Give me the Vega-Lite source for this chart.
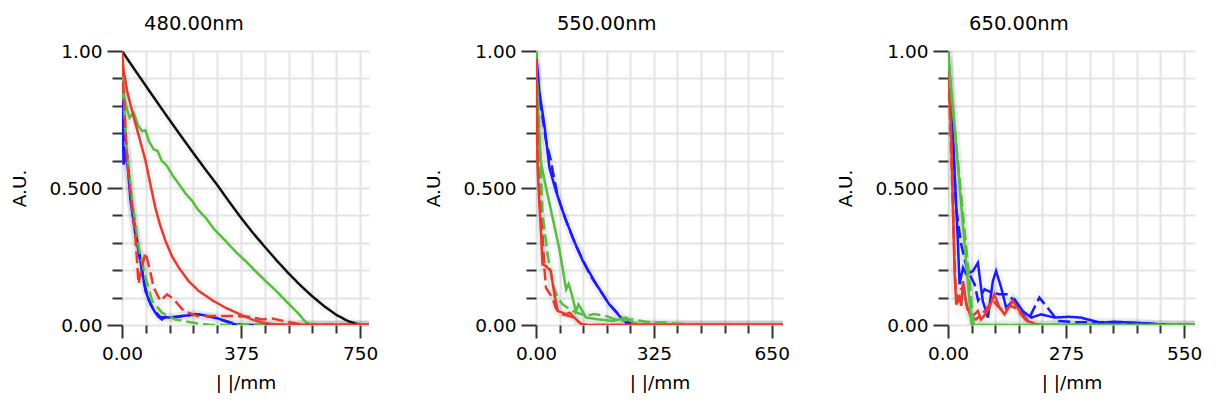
{
  "$schema": "https://vega.github.io/schema/vega-lite/v6.json",
  "background": "white",
  "padding": {"left": 10, "top": 13, "right": 10, "bottom": 10},
  "spacing": 46,
  "config": {
    "font": "DejaVu Sans",
    "view": {"stroke": null},
    "axis": {
      "labelFont": "DejaVu Sans", "titleFont": "DejaVu Sans",
      "labelFontSize": 18.5, "titleFontSize": 18.5, "titleFontWeight": "normal",
      "labelColor": "#000", "titleColor": "#000",
      "gridColor": "#e4e4e4", "gridWidth": 2,
      "tickColor": "#333", "tickWidth": 2,
      "domain": false, "labelFlush": false, "labelOverlap": false, "labelBound": false
    },
    "axisX": {"labelPadding": 6.5, "titlePadding": 10},
    "axisY": {"labelPadding": 5, "titlePadding": 20},
    "title": {"font": "DejaVu Sans", "fontSize": 19.5, "fontWeight": "normal", "color": "#000", "frame": "bounds", "anchor": "middle", "dy": -4}
  },
  "data": {"values": [
    {"p":"480","c":"k","d":"solid","x":0,"y":1},{"p":"480","c":"k","d":"solid","x":37.5,"y":0.936},{"p":"480","c":"k","d":"solid","x":75,"y":0.873},{"p":"480","c":"k","d":"solid","x":112.5,"y":0.81},{"p":"480","c":"k","d":"solid","x":150,"y":0.748},{"p":"480","c":"k","d":"solid","x":187.5,"y":0.687},{"p":"480","c":"k","d":"solid","x":225,"y":0.627},{"p":"480","c":"k","d":"solid","x":262.5,"y":0.568},{"p":"480","c":"k","d":"solid","x":300,"y":0.511},{"p":"480","c":"k","d":"solid","x":337.5,"y":0.45},{"p":"480","c":"k","d":"solid","x":375,"y":0.391},{"p":"480","c":"k","d":"solid","x":412.5,"y":0.336},{"p":"480","c":"k","d":"solid","x":450,"y":0.285},{"p":"480","c":"k","d":"solid","x":487.5,"y":0.235},{"p":"480","c":"k","d":"solid","x":525,"y":0.188},{"p":"480","c":"k","d":"solid","x":562.5,"y":0.144},{"p":"480","c":"k","d":"solid","x":600,"y":0.104},{"p":"480","c":"k","d":"solid","x":637.5,"y":0.068},{"p":"480","c":"k","d":"solid","x":675,"y":0.037},{"p":"480","c":"k","d":"solid","x":712.5,"y":0.014},{"p":"480","c":"k","d":"solid","x":750,"y":0},

    {"p":"480","c":"b","d":"dash","x":0,"y":0.9},{"p":"480","c":"b","d":"dash","x":4,"y":0.75},{"p":"480","c":"b","d":"dash","x":8,"y":0.6},{"p":"480","c":"b","d":"dash","x":15,"y":0.63},{"p":"480","c":"b","d":"dash","x":25,"y":0.5},{"p":"480","c":"b","d":"dash","x":40,"y":0.36},{"p":"480","c":"b","d":"dash","x":55,"y":0.26},{"p":"480","c":"b","d":"dash","x":70,"y":0.15},{"p":"480","c":"b","d":"dash","x":85,"y":0.09},{"p":"480","c":"b","d":"dash","x":100,"y":0.055},{"p":"480","c":"b","d":"dash","x":120,"y":0.03},{"p":"480","c":"b","d":"dash","x":140,"y":0.025},{"p":"480","c":"b","d":"dash","x":180,"y":0.03},{"p":"480","c":"b","d":"dash","x":230,"y":0.04},{"p":"480","c":"b","d":"dash","x":280,"y":0.03},{"p":"480","c":"b","d":"dash","x":340,"y":0.01},{"p":"480","c":"b","d":"dash","x":380,"y":0},{"p":"480","c":"b","d":"dash","x":778,"y":0},

    {"p":"480","c":"b","d":"solid","x":0,"y":0.88},{"p":"480","c":"b","d":"solid","x":3,"y":0.7},{"p":"480","c":"b","d":"solid","x":5,"y":0.586},{"p":"480","c":"b","d":"solid","x":9,"y":0.6},{"p":"480","c":"b","d":"solid","x":14,"y":0.647},{"p":"480","c":"b","d":"solid","x":20,"y":0.55},{"p":"480","c":"b","d":"solid","x":27,"y":0.453},{"p":"480","c":"b","d":"solid","x":42,"y":0.331},{"p":"480","c":"b","d":"solid","x":58,"y":0.234},{"p":"480","c":"b","d":"solid","x":74,"y":0.124},{"p":"480","c":"b","d":"solid","x":90,"y":0.075},{"p":"480","c":"b","d":"solid","x":105,"y":0.045},{"p":"480","c":"b","d":"solid","x":115,"y":0.03},{"p":"480","c":"b","d":"solid","x":126,"y":0.02},{"p":"480","c":"b","d":"solid","x":135,"y":0.03},{"p":"480","c":"b","d":"solid","x":147,"y":0.027},{"p":"480","c":"b","d":"solid","x":189,"y":0.033},{"p":"480","c":"b","d":"solid","x":242,"y":0.039},{"p":"480","c":"b","d":"solid","x":295,"y":0.027},{"p":"480","c":"b","d":"solid","x":330,"y":0.012},{"p":"480","c":"b","d":"solid","x":347,"y":0.005},{"p":"480","c":"b","d":"solid","x":370,"y":0},{"p":"480","c":"b","d":"solid","x":778,"y":0},

    {"p":"480","c":"g","d":"dash","x":0,"y":0.92},{"p":"480","c":"g","d":"dash","x":5,"y":0.818},{"p":"480","c":"g","d":"dash","x":15,"y":0.64},{"p":"480","c":"g","d":"dash","x":32,"y":0.453},{"p":"480","c":"g","d":"dash","x":53,"y":0.282},{"p":"480","c":"g","d":"dash","x":74,"y":0.173},{"p":"480","c":"g","d":"dash","x":95,"y":0.088},{"p":"480","c":"g","d":"dash","x":126,"y":0.045},{"p":"480","c":"g","d":"dash","x":168,"y":0.02},{"p":"480","c":"g","d":"dash","x":242,"y":0.005},{"p":"480","c":"g","d":"dash","x":280,"y":0},{"p":"480","c":"g","d":"dash","x":778,"y":0},

    {"p":"480","c":"g","d":"solid","x":0,"y":0.9},{"p":"480","c":"g","d":"solid","x":8,"y":0.82},{"p":"480","c":"g","d":"solid","x":16,"y":0.787},{"p":"480","c":"g","d":"solid","x":24,"y":0.757},{"p":"480","c":"g","d":"solid","x":37,"y":0.775},{"p":"480","c":"g","d":"solid","x":50,"y":0.73},{"p":"480","c":"g","d":"solid","x":63,"y":0.708},{"p":"480","c":"g","d":"solid","x":74,"y":0.71},{"p":"480","c":"g","d":"solid","x":85,"y":0.67},{"p":"480","c":"g","d":"solid","x":100,"y":0.641},{"p":"480","c":"g","d":"solid","x":112,"y":0.635},{"p":"480","c":"g","d":"solid","x":125,"y":0.6},{"p":"480","c":"g","d":"solid","x":142,"y":0.58},{"p":"480","c":"g","d":"solid","x":160,"y":0.545},{"p":"480","c":"g","d":"solid","x":179,"y":0.515},{"p":"480","c":"g","d":"solid","x":200,"y":0.48},{"p":"480","c":"g","d":"solid","x":221,"y":0.453},{"p":"480","c":"g","d":"solid","x":240,"y":0.42},{"p":"480","c":"g","d":"solid","x":263,"y":0.392},{"p":"480","c":"g","d":"solid","x":290,"y":0.35},{"p":"480","c":"g","d":"solid","x":326,"y":0.307},{"p":"480","c":"g","d":"solid","x":360,"y":0.265},{"p":"480","c":"g","d":"solid","x":389,"y":0.234},{"p":"480","c":"g","d":"solid","x":420,"y":0.197},{"p":"480","c":"g","d":"solid","x":452,"y":0.161},{"p":"480","c":"g","d":"solid","x":485,"y":0.125},{"p":"480","c":"g","d":"solid","x":516,"y":0.088},{"p":"480","c":"g","d":"solid","x":540,"y":0.06},{"p":"480","c":"g","d":"solid","x":558,"y":0.039},{"p":"480","c":"g","d":"solid","x":575,"y":0.015},{"p":"480","c":"g","d":"solid","x":594,"y":0},{"p":"480","c":"g","d":"solid","x":778,"y":0},

    {"p":"480","c":"r","d":"dash","x":0,"y":0.95},{"p":"480","c":"r","d":"dash","x":5,"y":0.85},{"p":"480","c":"r","d":"dash","x":16,"y":0.6},{"p":"480","c":"r","d":"dash","x":32,"y":0.43},{"p":"480","c":"r","d":"dash","x":42,"y":0.33},{"p":"480","c":"r","d":"dash","x":52,"y":0.15},{"p":"480","c":"r","d":"dash","x":60,"y":0.2},{"p":"480","c":"r","d":"dash","x":74,"y":0.264},{"p":"480","c":"r","d":"dash","x":88,"y":0.2},{"p":"480","c":"r","d":"dash","x":100,"y":0.136},{"p":"480","c":"r","d":"dash","x":121,"y":0.088},{"p":"480","c":"r","d":"dash","x":142,"y":0.112},{"p":"480","c":"r","d":"dash","x":163,"y":0.094},{"p":"480","c":"r","d":"dash","x":195,"y":0.051},{"p":"480","c":"r","d":"dash","x":237,"y":0.033},{"p":"480","c":"r","d":"dash","x":289,"y":0.033},{"p":"480","c":"r","d":"dash","x":347,"y":0.033},{"p":"480","c":"r","d":"dash","x":400,"y":0.03},{"p":"480","c":"r","d":"dash","x":442,"y":0.02},{"p":"480","c":"r","d":"dash","x":473,"y":0.024},{"p":"480","c":"r","d":"dash","x":536,"y":0.008},{"p":"480","c":"r","d":"dash","x":560,"y":0.003},{"p":"480","c":"r","d":"dash","x":600,"y":0},{"p":"480","c":"r","d":"dash","x":778,"y":0},

    {"p":"480","c":"r","d":"solid","x":0,"y":1},{"p":"480","c":"r","d":"solid","x":5,"y":0.93},{"p":"480","c":"r","d":"solid","x":16,"y":0.855},{"p":"480","c":"r","d":"solid","x":32,"y":0.78},{"p":"480","c":"r","d":"solid","x":53,"y":0.69},{"p":"480","c":"r","d":"solid","x":74,"y":0.6},{"p":"480","c":"r","d":"solid","x":90,"y":0.51},{"p":"480","c":"r","d":"solid","x":105,"y":0.428},{"p":"480","c":"r","d":"solid","x":120,"y":0.365},{"p":"480","c":"r","d":"solid","x":137,"y":0.307},{"p":"480","c":"r","d":"solid","x":157,"y":0.252},{"p":"480","c":"r","d":"solid","x":179,"y":0.209},{"p":"480","c":"r","d":"solid","x":210,"y":0.16},{"p":"480","c":"r","d":"solid","x":242,"y":0.124},{"p":"480","c":"r","d":"solid","x":285,"y":0.09},{"p":"480","c":"r","d":"solid","x":326,"y":0.063},{"p":"480","c":"r","d":"solid","x":370,"y":0.04},{"p":"480","c":"r","d":"solid","x":410,"y":0.02},{"p":"480","c":"r","d":"solid","x":445,"y":0.008},{"p":"480","c":"r","d":"solid","x":480,"y":0.002},{"p":"480","c":"r","d":"solid","x":520,"y":0},{"p":"480","c":"r","d":"solid","x":778,"y":0},

    {"p":"550","c":"b","d":"dash","x":0,"y":0.95},{"p":"550","c":"b","d":"dash","x":5,"y":0.85},{"p":"550","c":"b","d":"dash","x":14,"y":0.793},{"p":"550","c":"b","d":"dash","x":27.6,"y":0.672},{"p":"550","c":"b","d":"dash","x":41,"y":0.6},{"p":"550","c":"b","d":"dash","x":46,"y":0.562},{"p":"550","c":"b","d":"dash","x":60,"y":0.47},{"p":"550","c":"b","d":"dash","x":80,"y":0.39},{"p":"550","c":"b","d":"dash","x":110,"y":0.29},{"p":"550","c":"b","d":"dash","x":150,"y":0.18},{"p":"550","c":"b","d":"dash","x":200,"y":0.08},{"p":"550","c":"b","d":"dash","x":240,"y":0.02},{"p":"550","c":"b","d":"dash","x":270,"y":0},{"p":"550","c":"b","d":"dash","x":681,"y":0},

    {"p":"550","c":"b","d":"solid","x":0,"y":1},{"p":"550","c":"b","d":"solid","x":9,"y":0.854},{"p":"550","c":"b","d":"solid","x":23,"y":0.732},{"p":"550","c":"b","d":"solid","x":37,"y":0.574},{"p":"550","c":"b","d":"solid","x":55,"y":0.489},{"p":"550","c":"b","d":"solid","x":73.5,"y":0.416},{"p":"550","c":"b","d":"solid","x":101,"y":0.319},{"p":"550","c":"b","d":"solid","x":129,"y":0.234},{"p":"550","c":"b","d":"solid","x":166,"y":0.149},{"p":"550","c":"b","d":"solid","x":202,"y":0.075},{"p":"550","c":"b","d":"solid","x":230,"y":0.033},{"p":"550","c":"b","d":"solid","x":249,"y":0.008},{"p":"550","c":"b","d":"solid","x":268,"y":0},{"p":"550","c":"b","d":"solid","x":681,"y":0},

    {"p":"550","c":"g","d":"dash","x":0,"y":0.95},{"p":"550","c":"g","d":"dash","x":5,"y":0.85},{"p":"550","c":"g","d":"dash","x":9,"y":0.7},{"p":"550","c":"g","d":"dash","x":18,"y":0.404},{"p":"550","c":"g","d":"dash","x":32,"y":0.258},{"p":"550","c":"g","d":"dash","x":46,"y":0.149},{"p":"550","c":"g","d":"dash","x":60,"y":0.1},{"p":"550","c":"g","d":"dash","x":73.5,"y":0.075},{"p":"550","c":"g","d":"dash","x":101,"y":0.051},{"p":"550","c":"g","d":"dash","x":138,"y":0.033},{"p":"550","c":"g","d":"dash","x":160,"y":0.04},{"p":"550","c":"g","d":"dash","x":193,"y":0.033},{"p":"550","c":"g","d":"dash","x":230,"y":0.015},{"p":"550","c":"g","d":"dash","x":267,"y":0.02},{"p":"550","c":"g","d":"dash","x":304,"y":0.012},{"p":"550","c":"g","d":"dash","x":359,"y":0.008},{"p":"550","c":"g","d":"dash","x":414,"y":0.003},{"p":"550","c":"g","d":"dash","x":440,"y":0},{"p":"550","c":"g","d":"dash","x":681,"y":0},

    {"p":"550","c":"g","d":"solid","x":0,"y":1},{"p":"550","c":"g","d":"solid","x":4,"y":0.8},{"p":"550","c":"g","d":"solid","x":9,"y":0.68},{"p":"550","c":"g","d":"solid","x":14,"y":0.59},{"p":"550","c":"g","d":"solid","x":28,"y":0.5},{"p":"550","c":"g","d":"solid","x":46,"y":0.39},{"p":"550","c":"g","d":"solid","x":64,"y":0.28},{"p":"550","c":"g","d":"solid","x":73,"y":0.21},{"p":"550","c":"g","d":"solid","x":83,"y":0.13},{"p":"550","c":"g","d":"solid","x":90,"y":0.15},{"p":"550","c":"g","d":"solid","x":97,"y":0.12},{"p":"550","c":"g","d":"solid","x":110,"y":0.05},{"p":"550","c":"g","d":"solid","x":117,"y":0.075},{"p":"550","c":"g","d":"solid","x":124,"y":0.06},{"p":"550","c":"g","d":"solid","x":138,"y":0.027},{"p":"550","c":"g","d":"solid","x":175,"y":0.02},{"p":"550","c":"g","d":"solid","x":212,"y":0.015},{"p":"550","c":"g","d":"solid","x":249,"y":0.027},{"p":"550","c":"g","d":"solid","x":267,"y":0.01},{"p":"550","c":"g","d":"solid","x":290,"y":0},{"p":"550","c":"g","d":"solid","x":681,"y":0},

    {"p":"550","c":"r","d":"dash","x":0,"y":0.95},{"p":"550","c":"r","d":"dash","x":5,"y":0.6},{"p":"550","c":"r","d":"dash","x":12,"y":0.42},{"p":"550","c":"r","d":"dash","x":18,"y":0.33},{"p":"550","c":"r","d":"dash","x":23,"y":0.209},{"p":"550","c":"r","d":"dash","x":27.6,"y":0.136},{"p":"550","c":"r","d":"dash","x":35,"y":0.12},{"p":"550","c":"r","d":"dash","x":45,"y":0.1},{"p":"550","c":"r","d":"dash","x":55,"y":0.06},{"p":"550","c":"r","d":"dash","x":70,"y":0.04},{"p":"550","c":"r","d":"dash","x":100,"y":0.03},{"p":"550","c":"r","d":"dash","x":124,"y":0.005},{"p":"550","c":"r","d":"dash","x":140,"y":0},{"p":"550","c":"r","d":"dash","x":681,"y":0},

    {"p":"550","c":"r","d":"solid","x":0,"y":0.97},{"p":"550","c":"r","d":"solid","x":2,"y":0.8},{"p":"550","c":"r","d":"solid","x":4.6,"y":0.574},{"p":"550","c":"r","d":"solid","x":9,"y":0.45},{"p":"550","c":"r","d":"solid","x":14,"y":0.331},{"p":"550","c":"r","d":"solid","x":18,"y":0.221},{"p":"550","c":"r","d":"solid","x":27.6,"y":0.215},{"p":"550","c":"r","d":"solid","x":41,"y":0.197},{"p":"550","c":"r","d":"solid","x":50.6,"y":0.112},{"p":"550","c":"r","d":"solid","x":60,"y":0.051},{"p":"550","c":"r","d":"solid","x":73.5,"y":0.045},{"p":"550","c":"r","d":"solid","x":83,"y":0.039},{"p":"550","c":"r","d":"solid","x":92,"y":0.045},{"p":"550","c":"r","d":"solid","x":106,"y":0.027},{"p":"550","c":"r","d":"solid","x":124,"y":0.003},{"p":"550","c":"r","d":"solid","x":140,"y":0},{"p":"550","c":"r","d":"solid","x":681,"y":0},

    {"p":"650","c":"b","d":"dash","x":0,"y":0.98},{"p":"650","c":"b","d":"dash","x":8,"y":0.78},{"p":"650","c":"b","d":"dash","x":19,"y":0.428},{"p":"650","c":"b","d":"dash","x":30,"y":0.3},{"p":"650","c":"b","d":"dash","x":45,"y":0.2},{"p":"650","c":"b","d":"dash","x":62,"y":0.149},{"p":"650","c":"b","d":"dash","x":70,"y":0.09},{"p":"650","c":"b","d":"dash","x":85,"y":0.13},{"p":"650","c":"b","d":"dash","x":100,"y":0.12},{"p":"650","c":"b","d":"dash","x":119,"y":0.112},{"p":"650","c":"b","d":"dash","x":142,"y":0.112},{"p":"650","c":"b","d":"dash","x":170,"y":0.05},{"p":"650","c":"b","d":"dash","x":186,"y":0.015},{"p":"650","c":"b","d":"dash","x":201,"y":0.063},{"p":"650","c":"b","d":"dash","x":213,"y":0.1},{"p":"650","c":"b","d":"dash","x":232,"y":0.063},{"p":"650","c":"b","d":"dash","x":256,"y":0.015},{"p":"650","c":"b","d":"dash","x":300,"y":0.01},{"p":"650","c":"b","d":"dash","x":360,"y":0.01},{"p":"650","c":"b","d":"dash","x":418,"y":0.008},{"p":"650","c":"b","d":"dash","x":493,"y":0.003},{"p":"650","c":"b","d":"dash","x":520,"y":0},{"p":"650","c":"b","d":"dash","x":575,"y":0},

    {"p":"650","c":"b","d":"solid","x":0,"y":1},{"p":"650","c":"b","d":"solid","x":8,"y":0.8},{"p":"650","c":"b","d":"solid","x":15.5,"y":0.55},{"p":"650","c":"b","d":"solid","x":23,"y":0.307},{"p":"650","c":"b","d":"solid","x":27,"y":0.149},{"p":"650","c":"b","d":"solid","x":35,"y":0.209},{"p":"650","c":"b","d":"solid","x":43,"y":0.185},{"p":"650","c":"b","d":"solid","x":58,"y":0.197},{"p":"650","c":"b","d":"solid","x":69.7,"y":0.227},{"p":"650","c":"b","d":"solid","x":81,"y":0.088},{"p":"650","c":"b","d":"solid","x":93,"y":0.027},{"p":"650","c":"b","d":"solid","x":104.5,"y":0.16},{"p":"650","c":"b","d":"solid","x":112,"y":0.197},{"p":"650","c":"b","d":"solid","x":124,"y":0.136},{"p":"650","c":"b","d":"solid","x":135.5,"y":0.063},{"p":"650","c":"b","d":"solid","x":155,"y":0.094},{"p":"650","c":"b","d":"solid","x":174,"y":0.051},{"p":"650","c":"b","d":"solid","x":194,"y":0.027},{"p":"650","c":"b","d":"solid","x":217,"y":0.039},{"p":"650","c":"b","d":"solid","x":248,"y":0.027},{"p":"650","c":"b","d":"solid","x":280,"y":0.03},{"p":"650","c":"b","d":"solid","x":310,"y":0.027},{"p":"650","c":"b","d":"solid","x":356,"y":0.008},{"p":"650","c":"b","d":"solid","x":387,"y":0.012},{"p":"650","c":"b","d":"solid","x":434,"y":0.008},{"p":"650","c":"b","d":"solid","x":472,"y":0.005},{"p":"650","c":"b","d":"solid","x":511,"y":0},{"p":"650","c":"b","d":"solid","x":575,"y":0},

    {"p":"650","c":"r","d":"dash","x":0,"y":0.98},{"p":"650","c":"r","d":"dash","x":5,"y":0.75},{"p":"650","c":"r","d":"dash","x":10,"y":0.5},{"p":"650","c":"r","d":"dash","x":14,"y":0.3},{"p":"650","c":"r","d":"dash","x":18,"y":0.12},{"p":"650","c":"r","d":"dash","x":23,"y":0.09},{"p":"650","c":"r","d":"dash","x":30,"y":0.13},{"p":"650","c":"r","d":"dash","x":36,"y":0.14},{"p":"650","c":"r","d":"dash","x":45,"y":0.06},{"p":"650","c":"r","d":"dash","x":55,"y":0.03},{"p":"650","c":"r","d":"dash","x":65,"y":0.02},{"p":"650","c":"r","d":"dash","x":80,"y":0.04},{"p":"650","c":"r","d":"dash","x":95,"y":0.07},{"p":"650","c":"r","d":"dash","x":105,"y":0.09},{"p":"650","c":"r","d":"dash","x":115,"y":0.07},{"p":"650","c":"r","d":"dash","x":130,"y":0.05},{"p":"650","c":"r","d":"dash","x":145,"y":0.07},{"p":"650","c":"r","d":"dash","x":160,"y":0.06},{"p":"650","c":"r","d":"dash","x":180,"y":0.02},{"p":"650","c":"r","d":"dash","x":200,"y":0.005},{"p":"650","c":"r","d":"dash","x":220,"y":0},{"p":"650","c":"r","d":"dash","x":575,"y":0},

    {"p":"650","c":"r","d":"solid","x":0,"y":1},{"p":"650","c":"r","d":"solid","x":4,"y":0.85},{"p":"650","c":"r","d":"solid","x":7.7,"y":0.672},{"p":"650","c":"r","d":"solid","x":11.6,"y":0.428},{"p":"650","c":"r","d":"solid","x":15.5,"y":0.185},{"p":"650","c":"r","d":"solid","x":19.4,"y":0.075},{"p":"650","c":"r","d":"solid","x":27,"y":0.1},{"p":"650","c":"r","d":"solid","x":31,"y":0.07},{"p":"650","c":"r","d":"solid","x":35,"y":0.16},{"p":"650","c":"r","d":"solid","x":42.6,"y":0.075},{"p":"650","c":"r","d":"solid","x":54,"y":0.027},{"p":"650","c":"r","d":"solid","x":69.7,"y":0.051},{"p":"650","c":"r","d":"solid","x":77,"y":0.02},{"p":"650","c":"r","d":"solid","x":93,"y":0.051},{"p":"650","c":"r","d":"solid","x":108,"y":0.112},{"p":"650","c":"r","d":"solid","x":120,"y":0.063},{"p":"650","c":"r","d":"solid","x":131.7,"y":0.039},{"p":"650","c":"r","d":"solid","x":151,"y":0.088},{"p":"650","c":"r","d":"solid","x":167,"y":0.051},{"p":"650","c":"r","d":"solid","x":186,"y":0.015},{"p":"650","c":"r","d":"solid","x":209,"y":0},{"p":"650","c":"r","d":"solid","x":575,"y":0},

    {"p":"650","c":"g","d":"dash","x":0,"y":0.97},{"p":"650","c":"g","d":"dash","x":60,"y":0},{"p":"650","c":"g","d":"dash","x":575,"y":0},
    {"p":"650","c":"g","d":"solid","x":0,"y":1},{"p":"650","c":"g","d":"solid","x":55,"y":0},{"p":"650","c":"g","d":"solid","x":575,"y":0}
  ]},
  "hconcat": [
    {
      "width": 247, "height": 274,
      "title": {"text": "480.00nm"},
      "transform": [{"filter": "datum.p == '480'"}],
      "encoding": {
        "x": {"field": "x", "type": "quantitative", "scale": {"domain": [0, 778], "nice": false, "zero": false},
          "axis": {"title": "| |/mm", "values": [0,75,150,225,300,375,450,525,600,675,750],
            "labelExpr": "datum.value == 0 ? '0.00' : (datum.value == 375 || datum.value == 750) ? format(datum.value, 'd') : ''",
            "tickSize": {"condition": {"test": "datum.value == 0 || datum.value == 375 || datum.value == 750", "value": 13}, "value": 8}}},
        "y": {"field": "y", "type": "quantitative", "scale": {"domain": [0, 1], "nice": false},
          "axis": {"title": "A.U.", "values": [0,0.1,0.2,0.3,0.4,0.5,0.6,0.7,0.8,0.9,1],
            "labelExpr": "datum.value < 0.001 ? '0.00' : abs(datum.value - 0.5) < 0.001 ? '0.500' : datum.value > 0.999 ? '1.00' : ''",
            "tickSize": {"condition": {"test": "datum.value < 0.001 || abs(datum.value - 0.5) < 0.001 || datum.value > 0.999", "value": 15}, "value": 10}}}
      },
      "layer": [
        {
          "mark": {"type": "line", "strokeWidth": 9, "color": "#000000", "opacity": 0.035, "clip": true},
          "encoding": {"detail": [{"field": "c"}, {"field": "d"}]}
        },
        {
          "mark": {"type": "line", "strokeWidth": 2.5, "clip": true},
          "encoding": {
            "color": {"field": "c", "type": "nominal", "legend": null, "scale": {"domain": ["k","r","g","b"], "range": ["#111111","#e63b2e","#55bf3e","#1a1aff"]}},
            "strokeDash": {"field": "d", "type": "nominal", "legend": null, "scale": {"domain": ["solid","dash"], "range": [[1,0],[12,5]]}}
          }
        },
        {
          "data": {"values": [{"p": "480"}]},
          "mark": {"type": "rule", "color": "#8a8a8a", "strokeWidth": 2},
          "encoding": {
            "x": {"datum": 778, "type": "quantitative", "scale": {"domain": [0, 778], "nice": false, "zero": false},
              "axis": {"title": "| |/mm", "values": [0,75,150,225,300,375,450,525,600,675,750],
                "labelExpr": "datum.value == 0 ? '0.00' : (datum.value == 375 || datum.value == 750) ? format(datum.value, 'd') : ''",
                "tickSize": {"condition": {"test": "datum.value == 0 || datum.value == 375 || datum.value == 750", "value": 13}, "value": 8}}},
            "y": {"datum": 0, "type": "quantitative", "scale": {"domain": [0, 1], "nice": false},
              "axis": {"title": "A.U.", "values": [0,0.1,0.2,0.3,0.4,0.5,0.6,0.7,0.8,0.9,1],
                "labelExpr": "datum.value < 0.001 ? '0.00' : abs(datum.value - 0.5) < 0.001 ? '0.500' : datum.value > 0.999 ? '1.00' : ''",
                "tickSize": {"condition": {"test": "datum.value < 0.001 || abs(datum.value - 0.5) < 0.001 || datum.value > 0.999", "value": 15}, "value": 10}}},
            "y2": {"datum": 1}
          }
        }
      ]
    },
    {
      "width": 247, "height": 274,
      "title": {"text": "550.00nm"},
      "transform": [{"filter": "datum.p == '550'"}],
      "encoding": {
        "x": {"field": "x", "type": "quantitative", "scale": {"domain": [0, 681], "nice": false, "zero": false},
          "axis": {"title": "| |/mm", "values": [0,65,130,195,260,325,390,455,520,585,650],
            "labelExpr": "datum.value == 0 ? '0.00' : (datum.value == 325 || datum.value == 650) ? format(datum.value, 'd') : ''",
            "tickSize": {"condition": {"test": "datum.value == 0 || datum.value == 325 || datum.value == 650", "value": 13}, "value": 8}}},
        "y": {"field": "y", "type": "quantitative", "scale": {"domain": [0, 1], "nice": false},
          "axis": {"title": "A.U.", "values": [0,0.1,0.2,0.3,0.4,0.5,0.6,0.7,0.8,0.9,1],
            "labelExpr": "datum.value < 0.001 ? '0.00' : abs(datum.value - 0.5) < 0.001 ? '0.500' : datum.value > 0.999 ? '1.00' : ''",
            "tickSize": {"condition": {"test": "datum.value < 0.001 || abs(datum.value - 0.5) < 0.001 || datum.value > 0.999", "value": 15}, "value": 10}}}
      },
      "layer": [
        {
          "mark": {"type": "line", "strokeWidth": 9, "color": "#000000", "opacity": 0.035, "clip": true},
          "encoding": {"detail": [{"field": "c"}, {"field": "d"}]}
        },
        {
          "mark": {"type": "line", "strokeWidth": 2.5, "clip": true},
          "encoding": {
            "color": {"field": "c", "type": "nominal", "legend": null, "scale": {"domain": ["k","r","g","b"], "range": ["#111111","#e63b2e","#55bf3e","#1a1aff"]}},
            "strokeDash": {"field": "d", "type": "nominal", "legend": null, "scale": {"domain": ["solid","dash"], "range": [[1,0],[12,5]]}}
          }
        },
        {
          "data": {"values": [{"p": "550"}]},
          "mark": {"type": "rule", "color": "#8a8a8a", "strokeWidth": 2},
          "encoding": {
            "x": {"datum": 681, "type": "quantitative", "scale": {"domain": [0, 681], "nice": false, "zero": false},
              "axis": {"title": "| |/mm", "values": [0,65,130,195,260,325,390,455,520,585,650],
                "labelExpr": "datum.value == 0 ? '0.00' : (datum.value == 325 || datum.value == 650) ? format(datum.value, 'd') : ''",
                "tickSize": {"condition": {"test": "datum.value == 0 || datum.value == 325 || datum.value == 650", "value": 13}, "value": 8}}},
            "y": {"datum": 0, "type": "quantitative", "scale": {"domain": [0, 1], "nice": false},
              "axis": {"title": "A.U.", "values": [0,0.1,0.2,0.3,0.4,0.5,0.6,0.7,0.8,0.9,1],
                "labelExpr": "datum.value < 0.001 ? '0.00' : abs(datum.value - 0.5) < 0.001 ? '0.500' : datum.value > 0.999 ? '1.00' : ''",
                "tickSize": {"condition": {"test": "datum.value < 0.001 || abs(datum.value - 0.5) < 0.001 || datum.value > 0.999", "value": 15}, "value": 10}}},
            "y2": {"datum": 1}
          }
        }
      ]
    },
    {
      "width": 247, "height": 274,
      "title": {"text": "650.00nm"},
      "transform": [{"filter": "datum.p == '650'"}],
      "encoding": {
        "x": {"field": "x", "type": "quantitative", "scale": {"domain": [0, 575.5], "nice": false, "zero": false},
          "axis": {"title": "| |/mm", "values": [0,55,110,165,220,275,330,385,440,495,550],
            "labelExpr": "datum.value == 0 ? '0.00' : (datum.value == 275 || datum.value == 550) ? format(datum.value, 'd') : ''",
            "tickSize": {"condition": {"test": "datum.value == 0 || datum.value == 275 || datum.value == 550", "value": 13}, "value": 8}}},
        "y": {"field": "y", "type": "quantitative", "scale": {"domain": [0, 1], "nice": false},
          "axis": {"title": "A.U.", "values": [0,0.1,0.2,0.3,0.4,0.5,0.6,0.7,0.8,0.9,1],
            "labelExpr": "datum.value < 0.001 ? '0.00' : abs(datum.value - 0.5) < 0.001 ? '0.500' : datum.value > 0.999 ? '1.00' : ''",
            "tickSize": {"condition": {"test": "datum.value < 0.001 || abs(datum.value - 0.5) < 0.001 || datum.value > 0.999", "value": 15}, "value": 10}}}
      },
      "layer": [
        {
          "mark": {"type": "line", "strokeWidth": 9, "color": "#000000", "opacity": 0.035, "clip": true},
          "encoding": {"detail": [{"field": "c"}, {"field": "d"}]}
        },
        {
          "mark": {"type": "line", "strokeWidth": 2.5, "clip": true},
          "encoding": {
            "color": {"field": "c", "type": "nominal", "legend": null, "scale": {"domain": ["k","r","g","b"], "range": ["#111111","#e63b2e","#55bf3e","#1a1aff"]}},
            "strokeDash": {"field": "d", "type": "nominal", "legend": null, "scale": {"domain": ["solid","dash"], "range": [[1,0],[12,5]]}}
          }
        },
        {
          "data": {"values": [{"p": "650"}]},
          "mark": {"type": "rule", "color": "#8a8a8a", "strokeWidth": 2},
          "encoding": {
            "x": {"datum": 575.5, "type": "quantitative", "scale": {"domain": [0, 575.5], "nice": false, "zero": false},
              "axis": {"title": "| |/mm", "values": [0,55,110,165,220,275,330,385,440,495,550],
                "labelExpr": "datum.value == 0 ? '0.00' : (datum.value == 275 || datum.value == 550) ? format(datum.value, 'd') : ''",
                "tickSize": {"condition": {"test": "datum.value == 0 || datum.value == 275 || datum.value == 550", "value": 13}, "value": 8}}},
            "y": {"datum": 0, "type": "quantitative", "scale": {"domain": [0, 1], "nice": false},
              "axis": {"title": "A.U.", "values": [0,0.1,0.2,0.3,0.4,0.5,0.6,0.7,0.8,0.9,1],
                "labelExpr": "datum.value < 0.001 ? '0.00' : abs(datum.value - 0.5) < 0.001 ? '0.500' : datum.value > 0.999 ? '1.00' : ''",
                "tickSize": {"condition": {"test": "datum.value < 0.001 || abs(datum.value - 0.5) < 0.001 || datum.value > 0.999", "value": 15}, "value": 10}}},
            "y2": {"datum": 1}
          }
        }
      ]
    }
  ]
}
